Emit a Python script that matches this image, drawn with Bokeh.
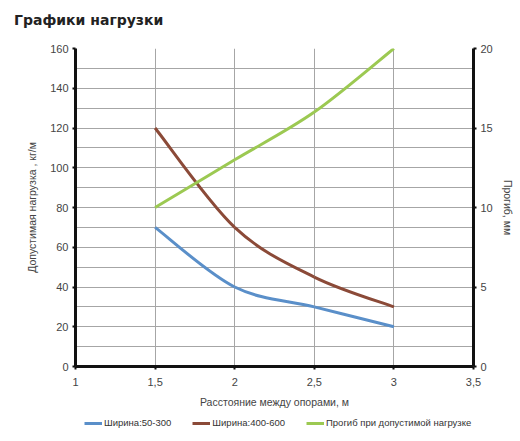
from bokeh.plotting import figure
from bokeh.layouts import column
from bokeh.models import (Range1d, LinearAxis, FixedTicker, Legend, LegendItem,
                          ColumnDataSource, Div)
from bokeh.embed import file_html
from bokeh.resources import INLINE

# ---- data ----
span_m = [1.5, 2.0, 2.5, 3.0]
load_50_300 = [70, 40, 30, 20]
load_400_600 = [120, 70, 45, 30]
deflection_mm = [10, 13, 16, 20]

x_ticks = [1, 1.5, 2, 2.5, 3, 3.5]
x_tick_labels = ["1", "1,5", "2", "2,5", "3", "3,5"]
y_ticks = [0, 20, 40, 60, 80, 100, 120, 140, 160]
y2_ticks = [0, 5, 10, 15, 20]

chart_title = "Графики нагрузки"
series_names = ["Ширина:50-300", "Ширина:400-600", "Прогиб при допустимой нагрузке"]
colors = ["#5a8fc9", "#8b4a38", "#9cc952"]

TICK_FONT = "Liberation Sans"


def smooth_segments(xs, ys):
    """Catmull-Rom style bezier control points (Excel-like smoothing)."""
    n = len(xs)
    d = dict(x0=[], y0=[], x1=[], y1=[], cx0=[], cy0=[], cx1=[], cy1=[])
    for i in range(n - 1):
        p0 = (xs[max(i - 1, 0)], ys[max(i - 1, 0)])
        p1 = (xs[i], ys[i])
        p2 = (xs[i + 1], ys[i + 1])
        p3 = (xs[min(i + 2, n - 1)], ys[min(i + 2, n - 1)])
        d["x0"].append(p1[0]); d["y0"].append(p1[1])
        d["x1"].append(p2[0]); d["y1"].append(p2[1])
        d["cx0"].append(p1[0] + (p2[0] - p0[0]) / 6)
        d["cy0"].append(p1[1] + (p2[1] - p0[1]) / 6)
        d["cx1"].append(p2[0] - (p3[0] - p1[0]) / 6)
        d["cy1"].append(p2[1] - (p3[1] - p1[1]) / 6)
    return ColumnDataSource(d)


title_div = Div(text=chart_title, width=520, height=30, margin=(0, 0, 0, 0),
                styles={"font-family": "DejaVu Sans", "font-size": "14px",
                        "font-weight": "bold", "color": "#222222",
                        "padding-left": "14px", "padding-top": "12px",
                        "line-height": "16px", "box-sizing": "border-box"})

p = figure(width=520, height=382, output_backend="svg", toolbar_location=None,
           title=None,
           x_range=Range1d(1, 3.5), y_range=Range1d(0, 160),
           min_border_left=75, min_border_right=47, min_border_top=18,
           min_border_bottom=46, outline_line_color=None)
p.extra_y_ranges = {"mm": Range1d(0, 20)}

# left axis
ya = p.yaxis[0]
ya.ticker = FixedTicker(ticks=y_ticks, minor_ticks=list(range(0, 161, 10)))
ya.axis_label = "Допустимая нагрузка , кг/м"

# right axis
ra = LinearAxis(y_range_name="mm",
                ticker=FixedTicker(ticks=y2_ticks, minor_ticks=[2.5 * i for i in range(9)]),
                axis_label="Прогиб, мм")
p.add_layout(ra, "right")

xa = p.xaxis[0]
xa.ticker = FixedTicker(ticks=x_ticks)
xa.major_label_overrides = {t: l for t, l in zip(x_ticks, x_tick_labels)}
xa.axis_label = "Расстояние между опорами, м"

for ax in [ya, ra, xa]:
    ax.axis_line_width = 3
    ax.axis_line_color = "#111111"
    ax.major_tick_line_color = "#111111"
    ax.major_tick_line_width = 2
    ax.major_tick_out = 3
    ax.major_tick_in = 0
    ax.minor_tick_line_color = "#111111"
    ax.minor_tick_out = 0
    ax.minor_tick_in = 0
    ax.major_label_text_font = TICK_FONT
    ax.major_label_text_font_size = "11px"
    ax.major_label_text_color = "#444444"
    ax.axis_label_text_font = TICK_FONT
    ax.axis_label_text_font_size = "10.5px"
    ax.axis_label_text_font_style = "normal"
    ax.axis_label_text_color = "#444444"
    ax.major_label_standoff = 4
ya.axis_label_standoff = 9
ra.axis_label_standoff = 6
xa.axis_label_standoff = 7
xa.major_label_standoff = 8

p.xgrid.ticker = FixedTicker(ticks=x_ticks)
p.ygrid.ticker = FixedTicker(ticks=list(range(0, 161, 10)))
for g in [p.xgrid[0], p.ygrid[0]]:
    g.grid_line_color = "#a6a6a6"
    g.grid_line_width = 1

all_series = [load_50_300, load_400_600, deflection_mm]
range_names = ["default", "default", "mm"]
for ys, col, rng in zip(all_series, colors, range_names):
    p.bezier(source=smooth_segments(span_m, ys), x0="x0", y0="y0", x1="x1", y1="y1",
             cx0="cx0", cy0="cy0", cx1="cx1", cy1="cy1", line_color=col, line_width=3,
             y_range_name=rng)

# ---- legend strip below the chart (its frame aligns with the chart frame) ----
lg = figure(width=520, height=29, output_backend="svg", toolbar_location=None,
            x_range=Range1d(0, 1), y_range=Range1d(1000, 1001),
            x_axis_type=None, y_axis_type=None, outline_line_color=None,
            min_border_left=0, min_border_right=0, min_border_top=0, min_border_bottom=0)
lg.xgrid.visible = False
lg.ygrid.visible = False
items = []
for name, col, ys in zip(series_names, colors, all_series):
    r = lg.line(x=span_m, y=ys, line_color=col, line_width=3)
    items.append(LegendItem(label=name, renderers=[r]))
legend = Legend(items=items, orientation="horizontal", location=(9, 13),
                label_text_font=TICK_FONT, label_text_font_size="9.5px",
                label_text_color="#333333", glyph_width=18, glyph_height=10,
                label_standoff=2, spacing=21, padding=0, margin=0,
                background_fill_alpha=0, border_line_color=None)
lg.add_layout(legend, "center")

open("out.html", "w").write(file_html(column(title_div, p, lg, spacing=0), INLINE))
